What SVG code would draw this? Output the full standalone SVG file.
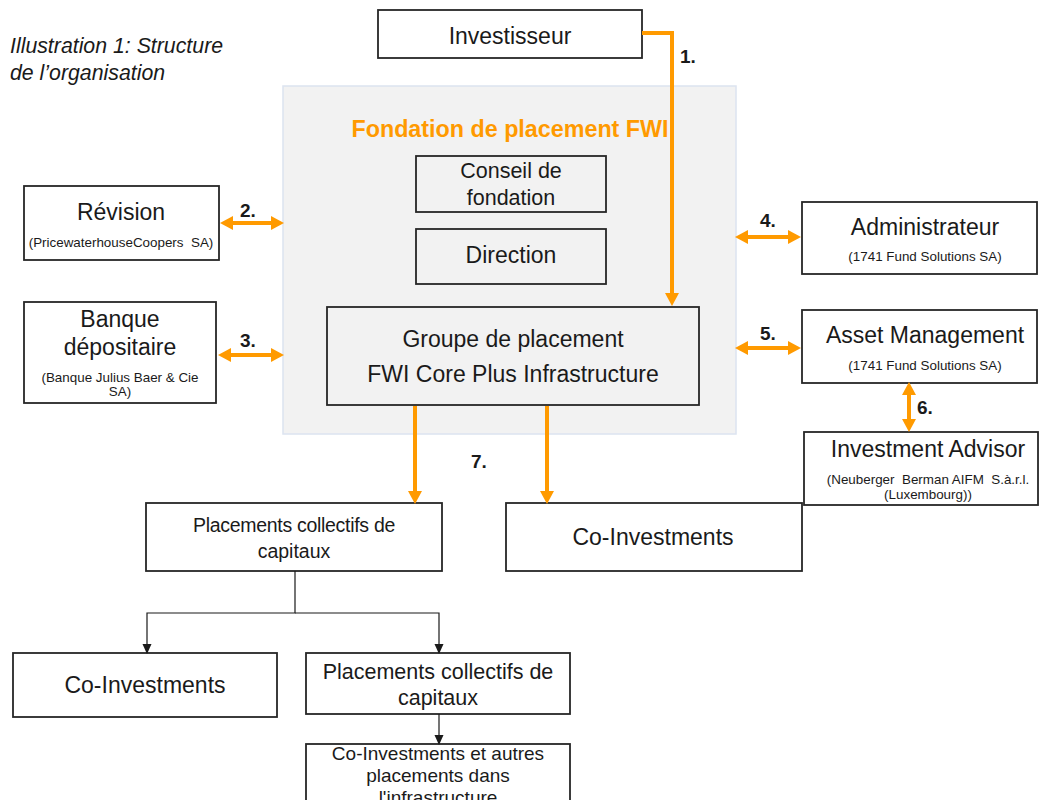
<svg xmlns="http://www.w3.org/2000/svg" width="1039" height="800" viewBox="0 0 1039 800">
<style>
text{font-family:"Liberation Sans",Arial,sans-serif;fill:#1a1a1a;text-anchor:middle}
.box{fill:#fff;stroke:#262626;stroke-width:1.8}
.ibox{fill:none;stroke:#262626;stroke-width:1.8}
.big{font-size:23px}
.mid{font-size:21.5px}
.sub{font-size:13.4px}
.num{font-size:19px;font-weight:bold;text-anchor:start}
.or{fill:none;stroke:#FF9A00;stroke-width:4}
.bk{fill:none;stroke:#1a1a1a;stroke-width:1.2}
</style>
<defs>
<marker id="oh" markerUnits="userSpaceOnUse" markerWidth="14" markerHeight="16" viewBox="0 0 13 16" refX="6" refY="8" orient="auto-start-reverse">
<path d="M0,1 L13,8 L0,15 z" fill="#FF9A00"/>
</marker>
<marker id="bh" markerUnits="userSpaceOnUse" markerWidth="10" markerHeight="10" viewBox="0 0 10 10" refX="9" refY="5" orient="auto">
<path d="M0,0.5 L10,5 L0,9.5 z" fill="#1a1a1a"/>
</marker>
</defs>

<g id="caption">
<text x="10" y="53" style="font-size:21.3px;font-style:italic;text-anchor:start">Illustration 1: Structure</text>
<text x="10" y="80" style="font-size:21.3px;font-style:italic;text-anchor:start">de l’organisation</text>
</g>

<g id="fondation">
<rect x="283" y="86" width="453" height="348" fill="#F2F2F2" stroke="#DCE3F0" stroke-width="1.5"/>
<text x="510" y="137" style="font-size:23.3px;font-weight:bold;fill:#FF9A00">Fondation de placement FWI</text>
</g>

<g id="investisseur">
<rect class="box" x="378" y="10" width="264" height="48"/>
<text class="big" x="510" y="44">Investisseur</text>
</g>

<g id="conseil">
<rect class="ibox" x="416" y="156" width="190" height="56"/>
<text class="mid" x="511" y="178">Conseil de</text>
<text class="mid" x="511" y="205">fondation</text>
</g>

<g id="direction">
<rect class="ibox" x="416" y="229" width="190" height="55"/>
<text class="big" x="511" y="263">Direction</text>
</g>

<g id="groupe">
<rect class="ibox" x="327" y="307" width="372" height="98"/>
<text class="big" x="513" y="347">Groupe de placement</text>
<text class="big" x="513" y="382">FWI Core Plus Infrastructure</text>
</g>

<g id="revision">
<rect class="box" x="24" y="186" width="195" height="74"/>
<text class="big" x="121" y="220">Révision</text>
<text class="sub" x="121" y="247" xml:space="preserve">(PricewaterhouseCoopers  SA)</text>
</g>

<g id="banque">
<rect class="box" x="24" y="302" width="192" height="101"/>
<text class="big" x="120" y="327">Banque</text>
<text class="big" x="120" y="355">dépositaire</text>
<text class="sub" x="120" y="382">(Banque Julius Baer &amp; Cie</text>
<text class="sub" x="120" y="396">SA)</text>
</g>

<g id="administrateur">
<rect class="box" x="802" y="202" width="235" height="72"/>
<text class="big" x="925" y="235">Administrateur</text>
<text class="sub" x="925" y="261">(1741 Fund Solutions SA)</text>
</g>

<g id="asset">
<rect class="box" x="802" y="310" width="235" height="73"/>
<text class="big" x="925" y="343">Asset Management</text>
<text class="sub" x="925" y="370">(1741 Fund Solutions SA)</text>
</g>

<g id="advisor">
<rect class="box" x="804" y="432" width="234" height="73"/>
<text class="big" x="928" y="457">Investment Advisor</text>
<text class="sub" x="928" y="484" xml:space="preserve">(Neuberger  Berman AIFM  S.à.r.l.</text>
<text class="sub" x="928" y="499">(Luxembourg))</text>
</g>

<g id="placements1">
<rect class="box" x="146" y="503" width="296" height="68"/>
<text x="294" y="532" style="font-size:19.5px;letter-spacing:-0.3px">Placements collectifs de</text>
<text x="294" y="558" style="font-size:19.5px">capitaux</text>
</g>

<g id="coinv1">
<rect class="box" x="506" y="503" width="296" height="68"/>
<text class="big" x="653" y="545">Co-Investments</text>
</g>

<g id="coinv2">
<rect class="box" x="13" y="653" width="264" height="64"/>
<text class="big" x="145" y="693">Co-Investments</text>
</g>

<g id="placements2">
<rect class="box" x="306" y="653" width="264" height="61"/>
<text x="438" y="679" style="font-size:21.5px">Placements collectifs de</text>
<text x="438" y="705" style="font-size:21.5px">capitaux</text>
</g>

<g id="coinv3">
<rect class="box" x="306" y="744" width="264" height="70"/>
<text x="438" y="760" style="font-size:19px">Co-Investments et autres</text>
<text x="438" y="782" style="font-size:19px">placements dans</text>
<text x="438" y="804" style="font-size:19px">l'infrastructure</text>
</g>

<g id="connectors">
<path class="or" d="M642,33 H672 V299" marker-end="url(#oh)"/>
<line class="or" x1="227" y1="223" x2="277" y2="223" marker-start="url(#oh)" marker-end="url(#oh)"/>
<line class="or" x1="225" y1="355" x2="277" y2="355" marker-start="url(#oh)" marker-end="url(#oh)"/>
<line class="or" x1="742" y1="237" x2="794" y2="237" marker-start="url(#oh)" marker-end="url(#oh)"/>
<line class="or" x1="742" y1="348" x2="794" y2="348" marker-start="url(#oh)" marker-end="url(#oh)"/>
<line class="or" x1="909" y1="389" x2="909" y2="425" marker-start="url(#oh)" marker-end="url(#oh)"/>
<line class="or" x1="415" y1="406" x2="415" y2="497" marker-end="url(#oh)"/>
<line class="or" x1="547" y1="406" x2="547" y2="497" marker-end="url(#oh)"/>
<path class="bk" d="M295,571 V613 H147 V653" marker-end="url(#bh)"/>
<path class="bk" d="M295,613 H439 V653" marker-end="url(#bh)"/>
<path class="bk" d="M439,714 V744" marker-end="url(#bh)"/>
<text class="num" x="680" y="63">1.</text>
<text class="num" x="240" y="217">2.</text>
<text class="num" x="240" y="347">3.</text>
<text class="num" x="760" y="227">4.</text>
<text class="num" x="760" y="340">5.</text>
<text class="num" x="917" y="414">6.</text>
<text class="num" x="471" y="468">7.</text>
</g>
</svg>
